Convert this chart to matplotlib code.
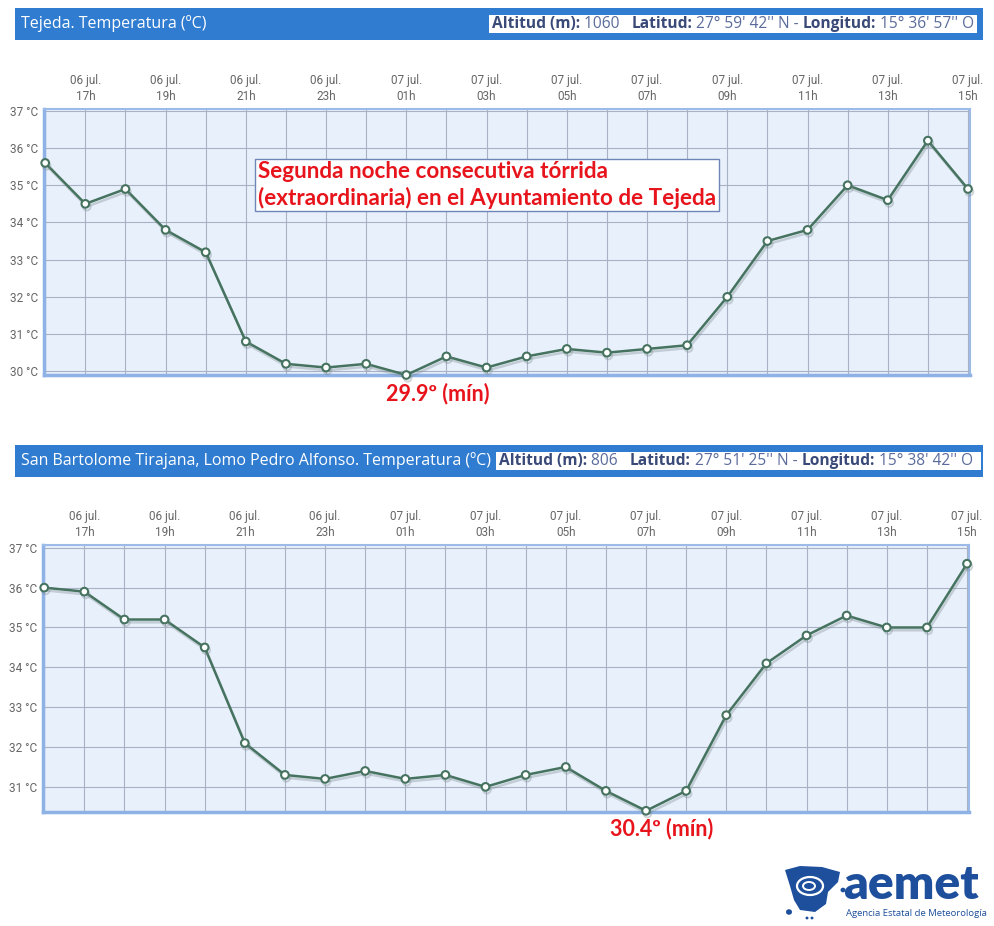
import numpy as np
import matplotlib
matplotlib.use("Agg")
import matplotlib.pyplot as plt
import matplotlib.patheffects as pe
from matplotlib.patches import Rectangle, Polygon, Ellipse, Circle

W, H = 994, 926

# ---- data ----
hours = ["16h", "17h", "18h", "19h", "20h", "21h", "22h", "23h",
         "00h", "01h", "02h", "03h", "04h", "05h", "06h", "07h",
         "08h", "09h", "10h", "11h", "12h", "13h", "14h", "15h"]
days = ["06 jul."] * 8 + ["07 jul."] * 16

tejeda_temp = [35.6, 34.5, 34.9, 33.8, 33.2, 30.8, 30.2, 30.1,
               30.2, 29.9, 30.4, 30.1, 30.4, 30.6, 30.5, 30.6,
               30.7, 32.0, 33.5, 33.8, 35.0, 34.6, 36.2, 34.9]
sbt_temp = [36.0, 35.9, 35.2, 35.2, 34.5, 32.1, 31.3, 31.2,
            31.4, 31.2, 31.3, 31.0, 31.3, 31.5, 30.9, 30.4,
            30.9, 32.8, 34.1, 34.8, 35.3, 35.0, 35.0, 36.6]

stations = [
    {"title": "Tejeda. Temperatura (ºC)", "alt": "1060",
     "lat": "27° 59' 42'' N", "lon": "15° 36' 57'' O"},
    {"title": "San Bartolome Tirajana, Lomo Pedro Alfonso. Temperatura (ºC)", "alt": "806",
     "lat": "27° 51' 25'' N", "lon": "15° 38' 42'' O"},
]

fig = plt.figure(figsize=(W / 100, H / 100), dpi=100)
fig.patch.set_facecolor("white")


def fx(px):
    return px / W


def fy(py):
    return 1 - py / H


def header(y0, title, alt, lat, lon, box_x0, box_x1):
    # blue header bar
    fig.add_artist(Rectangle((fx(15), fy(y0 + 32)), fx(968), 32 / H,
                             transform=fig.transFigure, color="#2f7cd0", lw=0))
    fig.text(fx(21), fy(y0 + 16), title, color="white", fontsize=11.5,
             family="Open Sans", va="center", ha="left")
    fig.add_artist(Rectangle((fx(box_x0), fy(y0 + 25)), fx(box_x1 - box_x0), 18 / H,
                             transform=fig.transFigure, color="white", lw=0))
    runs = [("Altitud (m):", True), (" " + alt + "   ", False),
            ("Latitud:", True), (" " + lat + " - ", False),
            ("Longitud:", True), (" " + lon, False)]
    fig.canvas.draw()
    r = fig.canvas.get_renderer()
    x = box_x0 + 3
    for s, bold in runs:
        t = fig.text(fx(x), fy(y0 + 16), s, fontsize=11.2, family="Open Sans",
                     va="center", ha="left",
                     color="#3a4a78" if bold else "#5b6c9c",
                     fontweight="bold" if bold else "normal")
        bb = t.get_window_extent(renderer=r)
        x += bb.width


def chart(rect, temps, ylim, yticks):
    ax = fig.add_axes(rect)
    x = np.arange(len(temps))
    ax.set_facecolor("#e8f0fb")
    ax.set_xlim(-0.03, len(temps) - 1 + 0.05)
    ax.set_ylim(*ylim)
    ax.set_xticks(x, minor=True)
    ax.grid(True, which="minor", axis="x", color="#a9b2c4", lw=0.8)
    ax.set_yticks(yticks)
    ax.grid(True, which="major", axis="y", color="#a9b2c4", lw=0.8)
    ax.set_axisbelow(True)
    ax.tick_params(which="minor", length=0)
    ax.xaxis.tick_top()
    ticks = x[1::2]
    ax.set_xticks(ticks)
    ax.set_xticklabels([f"{days[i]}\n{hours[i]}" for i in ticks],
                       fontsize=8.5, color="#666666", family="Roboto", linespacing=1.3)
    ax.grid(True, which="major", axis="x", color="#a9b2c4", lw=0.8)
    ax.set_yticklabels([f"{v} °C" for v in yticks], fontsize=8.5, color="#666666", family="Roboto")
    ax.tick_params(length=0, pad=4)
    for side in ["top", "right"]:
        ax.spines[side].set_color("#9cbbe8")
        ax.spines[side].set_linewidth(1.5)
    for side in ["left", "bottom"]:
        ax.spines[side].set_color("#8fb2e6")
        ax.spines[side].set_linewidth(2.5)
    ax.plot(x, temps, color="#46735f", lw=1.8, marker="o", ms=5.5,
            mfc="white", mec="#46735f", mew=1.5, clip_on=False, zorder=5,
            path_effects=[pe.SimpleLineShadow(offset=(1, -2), shadow_color="#7a8a90", alpha=0.35),
                          pe.Normal()])
    return ax


# ---- top chart ----
header(8, stations[0]["title"], stations[0]["alt"], stations[0]["lat"], stations[0]["lon"], 489, 977)
ax1 = chart([fx(44), fy(375), fx(926), 266 / H], tejeda_temp, (29.9, 37.05), [30, 31, 32, 33, 34, 35, 36, 37])
fig.text(fx(258), fy(185),
         "Segunda noche consecutiva tórrida\n(extraordinaria) en el Ayuntamiento de Tejeda",
         color="#e8141c", fontsize=16.2, fontweight="bold", family="Lato",
         va="center", ha="left", linespacing=1.22,
         bbox=dict(boxstyle="square,pad=0.12", fc="white", ec="#6e85b8", lw=1))
i1 = int(np.argmin(tejeda_temp))
ax1.annotate(f"{tejeda_temp[i1]}º (mín)", xy=(i1, tejeda_temp[i1]), xytext=(23, -13.5),
             textcoords="offset points", ha="center", va="center",
             color="#e8141c", fontsize=15.5, fontweight="bold", family="Lato", annotation_clip=False)

# ---- bottom chart ----
header(445, stations[1]["title"], stations[1]["alt"], stations[1]["lat"], stations[1]["lon"], 496, 981)
ax2 = chart([fx(43), fy(812), fx(926), 267 / H], sbt_temp, (30.37, 37.07), [31, 32, 33, 34, 35, 36, 37])
i2 = int(np.argmin(sbt_temp))
ax2.annotate(f"{sbt_temp[i2]}º (mín)", xy=(i2, sbt_temp[i2]), xytext=(11, -13),
             textcoords="offset points", ha="center", va="center",
             color="#e8141c", fontsize=15.5, fontweight="bold", family="Lato", annotation_clip=False)

# ---- aemet logo ----
blue = "#1d4f9c"
fig.text(fx(843), fy(899), "aemet", color=blue, fontsize=34.5, fontweight="heavy",
         family="Lato", va="baseline", ha="left")
fig.text(fx(846), fy(914), "Agencia Estatal de Meteorología", color=blue, fontsize=6.8,
         family="Open Sans", va="center", ha="left")
icon = [(785, 870), (800, 866), (822, 867), (840, 872), (838, 882), (828, 892),
        (826, 904), (815, 912), (800, 910), (794, 900), (790, 886)]
fig.add_artist(Polygon([(fx(a), fy(b)) for a, b in icon], closed=True,
                       transform=fig.transFigure, color=blue, lw=0))
fig.add_artist(Ellipse((fx(810), fy(886)), 26 / W, 18 / H, transform=fig.transFigure,
                       fill=False, ec="white", lw=1.6))
fig.add_artist(Ellipse((fx(809), fy(886)), 12 / W, 8 / H, transform=fig.transFigure,
                       fill=False, ec="white", lw=1.4))
for cx, cy, r in [(789, 912, 3), (843, 890, 2.5), (807, 918, 1.5), (812, 918, 1.5)]:
    fig.add_artist(Circle((fx(cx), fy(cy)), r / W, transform=fig.transFigure, color=blue, lw=0))

fig.savefig("out.png", dpi=100)
